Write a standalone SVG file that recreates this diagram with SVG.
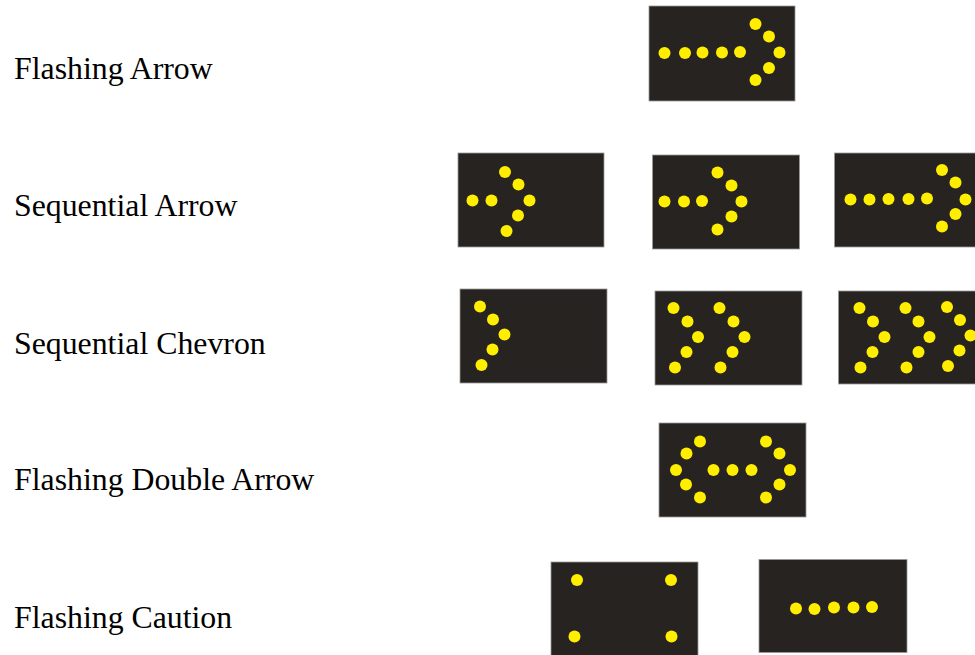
<svg xmlns="http://www.w3.org/2000/svg" width="975" height="655" viewBox="0 0 975 655">
<style>
.lbl{font-family:"Liberation Serif","Times New Roman",serif;font-size:31.8px;fill:#000}
.panel{fill:#262320;stroke:#9a9a9a;stroke-width:0.8}
.d{fill:#ffee00}
</style>
<rect x="0" y="0" width="975" height="655" fill="#ffffff"/>
<g id="labels">
<text class="lbl" x="14" y="79">Flashing Arrow</text>
<text class="lbl" x="14" y="216">Sequential Arrow</text>
<text class="lbl" x="14" y="354">Sequential Chevron</text>
<text class="lbl" x="14" y="490">Flashing Double Arrow</text>
<text class="lbl" x="14" y="628">Flashing Caution</text>
</g>
<g id="flashing-arrow">
<rect class="panel" x="649" y="6" width="146" height="95"/>
<g class="d">
<circle cx="664.5" cy="53" r="6"/><circle cx="685" cy="53" r="6"/><circle cx="702.5" cy="52.5" r="6"/><circle cx="722" cy="52.5" r="6"/><circle cx="740" cy="52" r="6"/>
<circle cx="755.5" cy="24" r="6"/><circle cx="769" cy="36.5" r="6"/><circle cx="779.5" cy="52.5" r="6"/><circle cx="769" cy="68" r="6"/><circle cx="755.5" cy="80" r="6"/>
</g>
</g>
<g id="sequential-arrow-1">
<rect class="panel" x="458" y="153" width="146" height="94"/>
<g class="d">
<circle cx="472.5" cy="200.5" r="6"/><circle cx="491.5" cy="200.5" r="6"/>
<circle cx="505" cy="172" r="6"/><circle cx="518.5" cy="184.5" r="6"/><circle cx="529.5" cy="200.5" r="6"/><circle cx="518" cy="215.5" r="6"/><circle cx="506.5" cy="231" r="6"/>
</g>
</g>
<g id="sequential-arrow-2">
<rect class="panel" x="652.5" y="155" width="147" height="94"/>
<g class="d">
<circle cx="664.5" cy="201.5" r="6"/><circle cx="684" cy="201.5" r="6"/><circle cx="702" cy="201" r="6"/>
<circle cx="717.5" cy="172.5" r="6"/><circle cx="731.5" cy="185.5" r="6"/><circle cx="741.5" cy="201.5" r="6"/><circle cx="731.5" cy="216.5" r="6"/><circle cx="717.5" cy="229.5" r="6"/>
</g>
</g>
<g id="sequential-arrow-3">
<rect class="panel" x="834.5" y="153" width="145" height="94"/>
<g class="d">
<circle cx="850.5" cy="199.5" r="6"/><circle cx="869.5" cy="199.5" r="6"/><circle cx="888.5" cy="199" r="6"/><circle cx="908.5" cy="199" r="6"/><circle cx="927" cy="198.5" r="6"/>
<circle cx="942" cy="170" r="6"/><circle cx="955.5" cy="182.5" r="6"/><circle cx="965.5" cy="199.5" r="6"/><circle cx="955.5" cy="214" r="6"/><circle cx="942" cy="226.5" r="6"/>
</g>
</g>
<g id="sequential-chevron-1">
<rect class="panel" x="460" y="289" width="147" height="94"/>
<g class="d">
<circle cx="480" cy="306.5" r="6"/><circle cx="493" cy="319.5" r="6"/><circle cx="504.5" cy="334.5" r="6"/><circle cx="492.5" cy="349.5" r="6"/><circle cx="481.5" cy="365" r="6"/>
</g>
</g>
<g id="sequential-chevron-2">
<rect class="panel" x="655" y="291" width="147" height="94"/>
<g class="d">
<circle cx="673.5" cy="308" r="6"/><circle cx="687.5" cy="321.5" r="6"/><circle cx="698" cy="337" r="6"/><circle cx="686.5" cy="352" r="6"/><circle cx="675" cy="367.5" r="6"/>
<circle cx="719.5" cy="308" r="6"/><circle cx="733.5" cy="321.5" r="6"/><circle cx="744.5" cy="337" r="6"/><circle cx="732.5" cy="352" r="6"/><circle cx="720.5" cy="367.5" r="6"/>
</g>
</g>
<g id="sequential-chevron-3">
<rect class="panel" x="838.5" y="291" width="145" height="93"/>
<g class="d">
<circle cx="859.5" cy="308" r="6"/><circle cx="873" cy="321.5" r="6"/><circle cx="884.5" cy="337" r="6"/><circle cx="872.5" cy="352" r="6"/><circle cx="860.5" cy="367.5" r="6"/>
<circle cx="905.5" cy="308" r="6"/><circle cx="918.5" cy="321.5" r="6"/><circle cx="929.5" cy="337" r="6"/><circle cx="918.5" cy="352" r="6"/><circle cx="906.5" cy="367.5" r="6"/>
<circle cx="947" cy="307" r="6"/><circle cx="960" cy="320" r="6"/><circle cx="970.5" cy="335.5" r="6"/><circle cx="959.5" cy="350.5" r="6"/><circle cx="948" cy="366" r="6"/>
</g>
</g>
<g id="flashing-double-arrow">
<rect class="panel" x="659" y="423" width="147" height="94"/>
<g class="d">
<circle cx="700" cy="441.5" r="6"/><circle cx="686.5" cy="453.5" r="6"/><circle cx="676" cy="470" r="6"/><circle cx="686" cy="484.5" r="6"/><circle cx="700" cy="497.5" r="6"/>
<circle cx="713.5" cy="470" r="6"/><circle cx="732.5" cy="470" r="6"/><circle cx="751.5" cy="470" r="6"/>
<circle cx="766" cy="441.5" r="6"/><circle cx="779.5" cy="453.5" r="6"/><circle cx="790" cy="470" r="6"/><circle cx="779.5" cy="484.5" r="6"/><circle cx="766" cy="497.5" r="6"/>
</g>
</g>
<g id="flashing-caution-1">
<rect class="panel" x="551" y="562" width="147" height="95"/>
<g class="d">
<circle cx="577" cy="580" r="6"/><circle cx="671" cy="580" r="6"/><circle cx="574.5" cy="636.5" r="6"/><circle cx="671.5" cy="636.5" r="6"/>
</g>
</g>
<g id="flashing-caution-2">
<rect class="panel" x="759" y="559.5" width="148" height="93"/>
<g class="d">
<circle cx="796" cy="608.5" r="6"/><circle cx="814.5" cy="609" r="6"/><circle cx="834" cy="607.5" r="6"/><circle cx="853.5" cy="607.5" r="6"/><circle cx="872" cy="607" r="6"/>
</g>
</g>
</svg>
